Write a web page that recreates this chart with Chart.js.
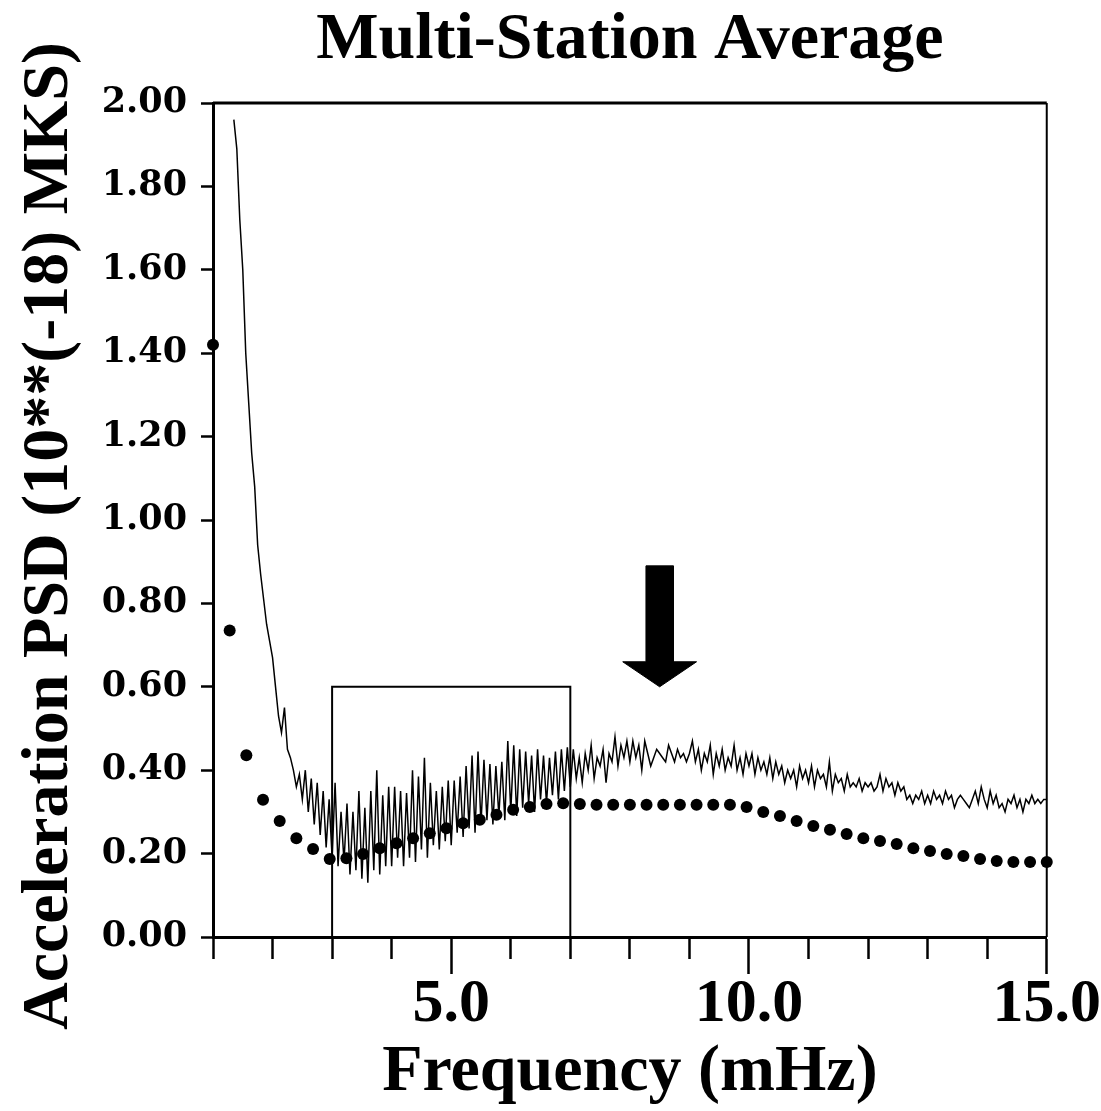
<!DOCTYPE html>
<html>
<head>
<meta charset="utf-8">
<title>Multi-Station Average</title>
<script src="https://cdn.jsdelivr.net/npm/chart.js"></script>
<style>
    html, body { margin: 0; padding: 0; background: #fff; }
    canvas { display: block; }
</style>
</head>
<body>
<canvas id="psd-chart" width="1101" height="1111"></canvas>
<script>
// Tick values
const yTicks = [0, 0.2, 0.4, 0.6, 0.8, 1.0, 1.2, 1.4, 1.6, 1.8, 2.0];
const xLabelled = [5, 10, 15];

// Averaged PSD (dots), one every 0.28 mHz starting at 1.0 mHz
const avgStart = 1.0;
const avgStep = 0.28;
const avgValues = [
    1.42, 0.735, 0.436, 0.329, 0.278, 0.237, 0.211, 0.187, 0.189, 0.199,
    0.213, 0.225, 0.237, 0.249, 0.261, 0.273, 0.281, 0.293, 0.305, 0.312,
    0.319, 0.321, 0.319, 0.317, 0.317, 0.317, 0.317, 0.317, 0.317, 0.317,
    0.317, 0.317, 0.312, 0.300, 0.290, 0.278, 0.266, 0.257, 0.247, 0.237,
    0.230, 0.223, 0.213, 0.206, 0.199, 0.194, 0.187, 0.182, 0.180, 0.180,
    0.180
];

// Raw multi-station PSD, one value every 0.05 mHz starting at 1.35 mHz
const psdStart = 1.35;
const psdStep = 0.05;
const psdValues = [
    // 1.35 - 1.95
    1.96, 1.89, 1.72, 1.60, 1.40, 1.28, 1.16, 1.08, 0.94, 0.87, 0.81, 0.75, 0.71,
    // 2.00 - 2.95
    0.67, 0.60, 0.53, 0.49, 0.55, 0.45, 0.43, 0.40, 0.36, 0.39, 0.33, 0.40, 0.30, 0.38, 0.27, 0.37, 0.245, 0.35, 0.215, 0.33,
    // 3.00 - 3.95
    0.19, 0.37, 0.17, 0.30, 0.18, 0.32, 0.15, 0.30, 0.16, 0.35, 0.14, 0.31, 0.13, 0.35, 0.16, 0.40, 0.15, 0.34, 0.17, 0.36,
    // 4.00 - 4.95
    0.17, 0.36, 0.19, 0.35, 0.17, 0.345, 0.19, 0.40, 0.18, 0.385, 0.21, 0.43, 0.19, 0.37, 0.22, 0.35, 0.21, 0.36, 0.23, 0.375,
    // 5.00 - 5.95
    0.22, 0.375, 0.25, 0.385, 0.24, 0.41, 0.26, 0.435, 0.25, 0.445, 0.27, 0.425, 0.28, 0.415, 0.27, 0.41, 0.29, 0.42, 0.28, 0.47,
    // 6.00 - 6.95
    0.30, 0.46, 0.29, 0.45, 0.31, 0.445, 0.32, 0.435, 0.30, 0.45, 0.33, 0.435, 0.32, 0.43, 0.34, 0.445, 0.33, 0.45, 0.35, 0.455,
    // 7.00 - 7.95
    0.36, 0.45, 0.38, 0.43, 0.37, 0.44, 0.40, 0.46, 0.38, 0.43, 0.41, 0.45, 0.37, 0.44, 0.42, 0.48, 0.41, 0.46, 0.43, 0.47,
    // 8.00 - 8.95
    0.42, 0.47, 0.43, 0.46, 0.40, 0.47, 0.44, 0.41, 0.43, 0.45, 0.44, 0.43, 0.42, 0.46, 0.44, 0.42, 0.45, 0.43, 0.44, 0.42,
    // 9.00 - 9.95
    0.44, 0.47, 0.42, 0.45, 0.40, 0.44, 0.42, 0.46, 0.39, 0.44, 0.41, 0.45, 0.40, 0.43, 0.41, 0.46, 0.40, 0.43, 0.39, 0.44,
    // 10.00 - 10.95
    0.41, 0.44, 0.39, 0.43, 0.40, 0.42, 0.39, 0.43, 0.38, 0.42, 0.39, 0.41, 0.37, 0.40, 0.38, 0.40, 0.36, 0.41, 0.38, 0.40,
    // 11.00 - 11.95
    0.37, 0.41, 0.36, 0.40, 0.38, 0.39, 0.36, 0.42, 0.35, 0.39, 0.37, 0.38, 0.35, 0.39, 0.36, 0.37, 0.36, 0.38, 0.35, 0.37,
    // 12.00 - 12.95
    0.36, 0.37, 0.35, 0.36, 0.39, 0.35, 0.38, 0.36, 0.37, 0.34, 0.37, 0.35, 0.36, 0.33, 0.34, 0.32, 0.34, 0.33, 0.35, 0.32,
    // 13.00 - 13.95
    0.34, 0.32, 0.35, 0.33, 0.34, 0.32, 0.35, 0.33, 0.34, 0.31, 0.33, 0.34, 0.33, 0.32, 0.31, 0.33, 0.35, 0.32, 0.36, 0.33,
    // 14.00 - 15.00
    0.31, 0.35, 0.32, 0.34, 0.31, 0.32, 0.30, 0.33, 0.32, 0.34, 0.31, 0.33, 0.30, 0.33, 0.32, 0.34, 0.32, 0.33, 0.32, 0.33, 0.33
];

// Highlighted band (3-7 mHz up to 0.60)
const boxX = [3, 3, 7, 7];
const boxY = [0, 0.6, 0.6, 0];

// Arrow pointing at 8.5 mHz
const arrowX = [8.27, 8.73, 8.73, 9.12, 8.5, 7.88, 8.27, 8.27];
const arrowY = [0.89, 0.89, 0.66, 0.66, 0.60, 0.66, 0.66, 0.89];

const serif = '"Liberation Serif", "Times New Roman", serif';

function toPoints(xs, ys) {
    return ys.map((y, i) => ({ x: xs[i], y: y }));
}

const avgPoints = avgValues.map((v, i) => ({ x: +(avgStart + i * avgStep).toFixed(2), y: v }));
const psdPoints = psdValues.map((v, i) => ({ x: +(psdStart + i * psdStep).toFixed(2), y: v }));

// Frame on top/right and the rotated y title
const framePlugin = {
    id: 'frame',
    afterDatasetsDraw(chart) {
        const { ctx, chartArea: a } = chart;
        ctx.save();
        ctx.strokeStyle = '#000';
        ctx.lineWidth = 3;
        ctx.beginPath();
        ctx.moveTo(a.left, a.top);
        ctx.lineTo(a.right, a.top);
        ctx.stroke();
        ctx.lineWidth = 2;
        ctx.beginPath();
        ctx.moveTo(a.right, a.top);
        ctx.lineTo(a.right, a.bottom);
        ctx.stroke();
        ctx.restore();
    },
    afterDraw(chart) {
        const ctx = chart.ctx;
        ctx.save();
        ctx.translate(50, 536);
        ctx.rotate(-Math.PI / 2);
        ctx.font = 'bold 66px ' + serif;
        ctx.fillStyle = '#000';
        ctx.textAlign = 'center';
        ctx.textBaseline = 'middle';
        ctx.fillText('Acceleration PSD (10**(-18) MKS)', 0, 0);
        ctx.restore();
    }
};

new Chart(document.getElementById('psd-chart').getContext('2d'), {
    type: 'scatter',
    data: {
        datasets: [
            {
                label: 'Average',
                data: avgPoints,
                pointRadius: 6,
                pointBackgroundColor: '#000',
                pointBorderWidth: 0,
                showLine: false,
                clip: false
            },
            {
                label: 'PSD',
                data: psdPoints,
                showLine: true,
                borderColor: '#000',
                borderWidth: 1.5,
                pointRadius: 0,
                tension: 0
            },
            {
                label: 'Band',
                data: toPoints(boxX, boxY),
                showLine: true,
                borderColor: '#000',
                borderWidth: 2,
                pointRadius: 0
            },
            {
                label: 'Arrow',
                data: toPoints(arrowX, arrowY),
                showLine: true,
                borderColor: '#000',
                borderWidth: 1,
                backgroundColor: '#000',
                fill: 'shape',
                pointRadius: 0
            }
        ]
    },
    options: {
        responsive: false,
        animation: false,
        devicePixelRatio: 1,
        layout: { padding: { left: 0, right: 54, top: 0, bottom: 0 } },
        plugins: {
            legend: { display: false },
            tooltip: { enabled: false },
            title: {
                display: true,
                text: 'Multi-Station Average',
                color: '#000',
                fullSize: false,
                font: { family: serif, size: 66, weight: 'bold', lineHeight: 1 },
                padding: { top: 8, bottom: 29 }
            }
        },
        scales: {
            x: {
                type: 'linear',
                min: 1,
                max: 15,
                afterFit: (scale) => { scale.height = 174; },
                afterBuildTicks: (scale) => {
                    const ticks = [];
                    for (let v = 1; v <= 15; v++) ticks.push({ value: v });
                    scale.ticks = ticks;
                },
                border: { display: true, color: '#000', width: 3 },
                grid: {
                    drawOnChartArea: false,
                    drawTicks: true,
                    tickLength: 37,
                    tickWidth: 2.5,
                    tickColor: '#000',
                    tickBorderDash: (c) => (c.tick && xLabelled.includes(c.tick.value)) ? [] : [20, 100]
                },
                ticks: {
                    autoSkip: false,
                    maxRotation: 0,
                    minRotation: 0,
                    padding: 0,
                    color: '#000',
                    font: { family: serif, size: 62, weight: 'bold', lineHeight: 1 },
                    callback: (v) => xLabelled.includes(v) ? v.toFixed(1) : ''
                },
                title: {
                    display: true,
                    text: 'Frequency (mHz)',
                    color: '#000',
                    font: { family: serif, size: 66, weight: 'bold', lineHeight: 1 },
                    padding: { top: 0, bottom: 5 }
                }
            },
            y: {
                type: 'linear',
                min: 0,
                max: 2,
                afterFit: (scale) => { scale.width = 213; },
                afterBuildTicks: (scale) => {
                    scale.ticks = yTicks.map(v => ({ value: v }));
                },
                border: { display: true, color: '#000', width: 3 },
                grid: {
                    drawOnChartArea: false,
                    drawTicks: true,
                    tickLength: 12,
                    tickWidth: 2.5,
                    tickColor: '#000'
                },
                ticks: {
                    autoSkip: false,
                    padding: 14,
                    color: '#000',
                    font: { family: '"DejaVu Serif", serif', size: 35, weight: 'bold' },
                    callback: (v) => v.toFixed(2)
                }
            }
        }
    },
    plugins: [framePlugin]
});
</script>
</body>
</html>
